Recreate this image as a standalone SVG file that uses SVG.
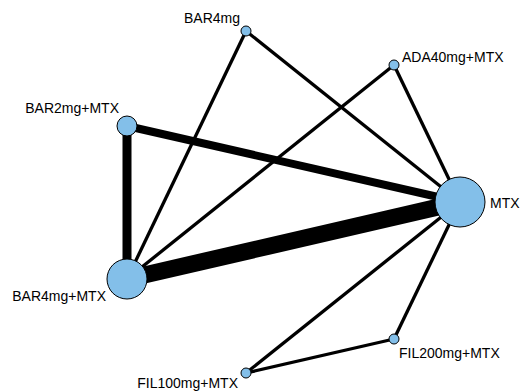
<svg xmlns="http://www.w3.org/2000/svg" width="520" height="392" viewBox="0 0 520 392">
<style>
.e{stroke:#000;stroke-linecap:butt;fill:none}
.n{fill:#83BFE9;stroke:#000;stroke-width:1}
.t{font-family:"Liberation Sans",Arial,sans-serif;font-size:14px;fill:#000}
</style>
<rect width="520" height="392" fill="#fff"/>
<g id="edges">
<line class="e" x1="246" y1="31" x2="127" y2="279" stroke-width="3.3"/>
<line class="e" x1="246" y1="31" x2="460" y2="202" stroke-width="3.3"/>
<line class="e" x1="394" y1="65" x2="127" y2="279" stroke-width="3.3"/>
<line class="e" x1="394" y1="65" x2="460" y2="202" stroke-width="3.3"/>
<line class="e" x1="127" y1="126" x2="460" y2="202" stroke-width="8"/>
<line class="e" x1="127" y1="126" x2="127" y2="279" stroke-width="9"/>
<line class="e" x1="127" y1="279" x2="460" y2="202" stroke-width="17"/>
<line class="e" x1="460" y1="202" x2="246" y2="373" stroke-width="3.3"/>
<line class="e" x1="460" y1="202" x2="394" y2="339" stroke-width="3.3"/>
<line class="e" x1="246" y1="373" x2="394" y2="339" stroke-width="3.3"/>
</g>
<g id="node-BAR4mg"><circle class="n" cx="246" cy="31" r="5"/><text class="t" x="240" y="23" text-anchor="end">BAR4mg</text></g>
<g id="node-ADA40mg-MTX"><circle class="n" cx="394" cy="65" r="5"/><text class="t" x="402" y="62">ADA40mg+MTX</text></g>
<g id="node-BAR2mg-MTX"><circle class="n" cx="127" cy="126" r="10"/><text class="t" x="119" y="113" text-anchor="end">BAR2mg+MTX</text></g>
<g id="node-BAR4mg-MTX"><circle class="n" cx="127" cy="279" r="20"/><text class="t" x="106" y="301" text-anchor="end">BAR4mg+MTX</text></g>
<g id="node-MTX"><circle class="n" cx="460" cy="202" r="25"/><text class="t" x="490" y="208">MTX</text></g>
<g id="node-FIL200mg-MTX"><circle class="n" cx="394" cy="339" r="5"/><text class="t" x="399" y="358">FIL200mg+MTX</text></g>
<g id="node-FIL100mg-MTX"><circle class="n" cx="246" cy="373" r="5"/><text class="t" x="238" y="388" text-anchor="end">FIL100mg+MTX</text></g>
</svg>
